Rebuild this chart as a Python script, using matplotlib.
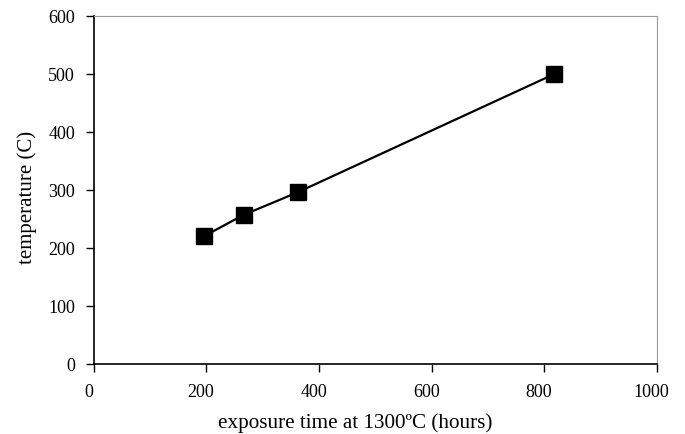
import matplotlib
matplotlib.use('Agg')
import matplotlib.pyplot as plt
import matplotlib.transforms as mtransforms

plt.rcParams['font.family'] = ['Liberation Serif', 'DejaVu Serif']

# exposure time (hours) vs temperature (C)
exposure_hours = [195, 266, 362, 818]
temperature_c = [220, 257, 296, 500]

fig = plt.figure(figsize=(6.85, 4.35), dpi=100)
ax = fig.add_axes([0.137, 0.161, 0.822, 0.800])

ax.plot(exposure_hours, temperature_c, color='black', linewidth=1.6,
        marker='s', markersize=12, markerfacecolor='black', markeredgecolor='black')

ax.set_xlim(0, 1000)
ax.set_ylim(0, 600)
ax.set_xticks(range(0, 1001, 200))
ax.set_yticks(range(0, 601, 100))

for side in ['top', 'right']:
    ax.spines[side].set_color('#999999')
    ax.spines[side].set_linewidth(0.8)
for side in ['left', 'bottom']:
    ax.spines[side].set_color('black')
    ax.spines[side].set_linewidth(1.2)

ax.tick_params(direction='out', length=5.5, width=1.0, labelsize=13,
               colors='black')
ax.tick_params(axis='y', pad=8)
ax.tick_params(axis='x', pad=8)

# nudge x tick labels slightly left of their ticks
shift = mtransforms.ScaledTranslation(-0.055, 0, fig.dpi_scale_trans)
for lbl in ax.get_xticklabels():
    lbl.set_transform(lbl.get_transform() + shift)

ax.set_xlabel('exposure time at 1300ºC (hours)', fontsize=15.2)
ax.set_ylabel('temperature (C)', fontsize=15, labelpad=8)
ax.xaxis.set_label_coords(0.465, -0.138)
ax.yaxis.label.set_y(0.48)

fig.savefig('out.png', dpi=100)
